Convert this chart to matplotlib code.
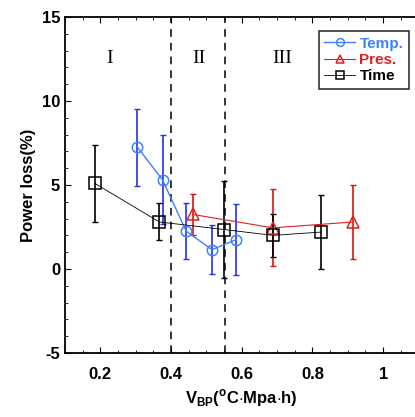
import matplotlib
matplotlib.use("Agg")
import matplotlib.pyplot as plt
from matplotlib.ticker import MultipleLocator

plt.rcParams["font.family"] = ["Liberation Sans", "DejaVu Sans"]
plt.rcParams["mathtext.fontset"] = "custom"
plt.rcParams["mathtext.rm"] = "Liberation Sans"
plt.rcParams["mathtext.bf"] = "Liberation Sans:bold"
plt.rcParams["axes.unicode_minus"] = False

# Temp series
temp_x = [0.305, 0.376, 0.443, 0.516, 0.584]
temp_y = [7.25, 5.3, 2.25, 1.15, 1.75]
temp_err = [2.3, 2.65, 1.65, 1.45, 2.1]

# Pres series
pres_x = [0.461, 0.688, 0.916]
pres_y = [3.25, 2.45, 2.8]
pres_err = [1.2, 2.3, 2.2]

# Time series
time_x = [0.184, 0.367, 0.55, 0.688, 0.825]
time_y = [5.1, 2.8, 2.35, 2.0, 2.2]
time_err = [2.3, 1.1, 2.9, 1.3, 2.2]

regions = ["I", "II", "III"]
region_x = [0.225, 0.48, 0.715]
boundaries = [0.4, 0.554]

fig = plt.figure(figsize=(4.15, 4.17), dpi=100)
ax = fig.add_axes([65 / 415, 64 / 417, 353.5 / 415, 336 / 417])

ax.errorbar(temp_x, temp_y, yerr=temp_err, fmt="none", ecolor="#2233dd",
            elinewidth=1.2, capsize=2, capthick=1, zorder=2)
ax.plot(temp_x, temp_y, "-o", color="#3d82ff", lw=1, ms=7.5, mfc="none",
        mew=1.1, label="Temp.", zorder=3)

ax.errorbar(pres_x, pres_y, yerr=pres_err, fmt="none", ecolor="#e01010",
            elinewidth=1.2, capsize=2, capthick=1, zorder=2)
ax.plot(pres_x, pres_y, "-^", color="#e02020", lw=0.8, ms=8, mfc="none",
        mew=1.1, label="Pres.", zorder=3)

ax.errorbar(time_x, time_y, yerr=time_err, fmt="none", ecolor="black",
            elinewidth=1.2, capsize=2, capthick=1, zorder=2)
ax.plot(time_x, time_y, "-s", color="black", lw=0.6, ms=8, mfc="none",
        mew=1.1, label="Time", zorder=3)

for b in boundaries:
    ax.axvline(b, color="black", ls=(0, (5, 4)), lw=1.1, zorder=1)

for lab, xx in zip(regions, region_x):
    ax.text(xx, 12.55, lab, family="Liberation Serif", fontsize=14,
            ha="center", va="center")

ax.set_xlim(0.1, 1.1)
ax.set_ylim(-5, 15)
ax.set_xticks([0.2, 0.4, 0.6, 0.8, 1.0])
ax.set_xticklabels(["0.2", "0.4", "0.6", "0.8", "1"])
ax.set_yticks([-5, 0, 5, 10, 15])
ax.xaxis.set_minor_locator(MultipleLocator(0.05))
ax.yaxis.set_minor_locator(MultipleLocator(1))
ax.tick_params(which="both", direction="in", top=True, right=False,
               labelsize=12)
ax.tick_params(which="major", length=4)
ax.tick_params(which="minor", length=2)
for t in ax.get_xticklabels() + ax.get_yticklabels():
    t.set_fontweight("bold")
ax.tick_params(axis="x", pad=10)
for s in ax.spines.values():
    s.set_linewidth(1.3)

ax.set_xlabel(r"V$_{\mathbf{BP}}$($^{\mathbf{o}}$C$\cdot$Mpa$\cdot$h)",
              fontsize=12, fontweight="bold")
ax.set_ylabel("Power loss(%)", fontsize=12, fontweight="bold")

leg = ax.legend(loc="upper right", bbox_to_anchor=(0.972, 0.957),
                fancybox=False, edgecolor="black", markerscale=0.75,
                handlelength=2.0, borderpad=0.35, labelspacing=0.15,
                handletextpad=0.3, borderaxespad=0,
                prop={"weight": "bold", "size": 11})
leg.get_frame().set_linewidth(1.2)
for txt, c in zip(leg.get_texts(), ["#3d82ff", "#e02020", "black"]):
    txt.set_color(c)

fig.savefig("out.png", dpi=100)
